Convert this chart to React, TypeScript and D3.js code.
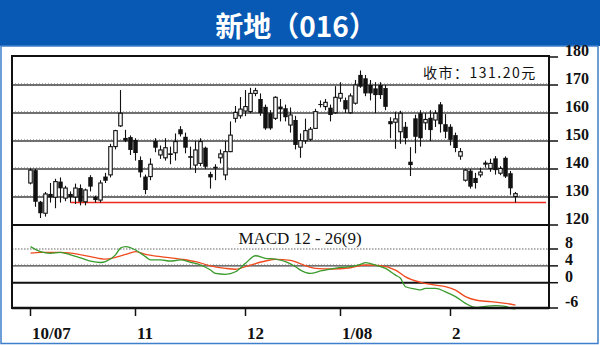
import React from "react";
import * as d3 from "d3";

// ---- Daily OHLC (Oct 2007 – Feb 2008) ----
const opens = [
  135.0, 139.6, 128.3, 124.2, 131.1, 129.9, 135.5, 129.6, 131.1, 130.0,
  133.2, 128.3, 137.1, 130.0, 128.9, 137.3, 137.9, 148.0, 155.4, 151.1,
  151.4, 150.4, 143.2, 137.3, 137.3, 150.0, 145.0, 144.0, 145.6, 145.8,
  154.2, 151.5, 144.6, 141.4, 142.0, 147.6, 138.2, 140.8, 144.0, 137.9,
  146.2, 158.1, 159.0, 160.7, 160.5, 167.0, 165.0, 162.2, 159.9, 158.1,
  162.3, 161.7, 155.7, 157.5, 147.8, 150.1, 150.6, 154.5, 163.2, 162.3,
  161.9, 160.1, 165.3, 164.6, 160.1, 163.5, 173.6, 172.4, 170.0, 168.8,
  170.0, 168.9, 157.1, 156.7, 153.3, 155.1, 142.6, 158.1, 159.9, 156.5,
  158.3, 157.5, 163.1, 156.0, 155.1, 152.1, 144.6, 136.0, 139.4, 136.8,
  137.9, 141.8, 140.2, 143.8, 138.5, 144.0, 138.5, 130.2,
];
const highs = [
  140.2, 140.0, 128.6, 131.8, 135.0, 136.5, 137.0, 134.0, 132.0, 134.8,
  134.5, 133.0, 137.8, 130.5, 136.0, 138.6, 149.0, 154.0, 168.2, 154.0,
  152.0, 151.0, 144.5, 138.0, 143.8, 151.0, 148.4, 151.0, 148.0, 152.7,
  155.3, 153.0, 148.0, 150.0, 151.0, 148.0, 139.0, 141.7, 147.0, 150.0,
  157.0, 162.5, 165.7, 168.2, 169.0, 169.0, 167.0, 163.0, 161.0, 166.0,
  165.0, 163.0, 162.0, 159.0, 152.7, 158.0, 155.0, 161.5, 164.5, 165.0,
  163.0, 169.6, 171.0, 165.5, 167.0, 171.8, 175.2, 173.6, 171.8, 171.0,
  171.0, 170.0, 158.5, 160.5, 160.8, 156.8, 147.8, 159.4, 161.0, 160.0,
  161.0, 161.0, 163.9, 159.6, 156.0, 153.0, 147.5, 140.0, 140.0, 138.6,
  140.4, 143.0, 143.7, 144.6, 141.0, 144.5, 139.3, 131.8,
];
const lows = [
  134.5, 126.5, 122.5, 123.0, 128.0, 126.0, 128.0, 128.5, 128.0, 127.5,
  127.0, 127.0, 132.0, 128.0, 128.0, 135.0, 137.0, 147.0, 155.0, 149.6,
  145.0, 143.0, 137.0, 131.0, 136.0, 146.0, 143.6, 143.0, 141.7, 143.0,
  151.6, 145.6, 140.0, 138.6, 141.0, 140.0, 133.0, 136.0, 142.0, 136.0,
  146.0, 156.6, 158.0, 158.9, 160.0, 166.0, 159.0, 154.0, 154.0, 157.5,
  157.0, 157.0, 153.0, 147.0, 144.0, 149.0, 150.0, 154.5, 162.0, 161.0,
  157.0, 159.7, 164.0, 160.0, 159.7, 163.0, 169.0, 166.0, 164.5, 160.0,
  165.0, 161.0, 151.0, 147.2, 149.0, 148.8, 137.5, 145.6, 148.0, 154.0,
  150.0, 155.0, 153.0, 151.0, 148.4, 146.0, 143.3, 135.5, 133.0, 133.0,
  137.0, 140.5, 139.0, 138.0, 137.8, 136.8, 130.8, 128.0,
];
const closes = [
  139.6, 128.3, 124.2, 131.1, 129.9, 135.5, 133.1, 133.2, 130.0, 133.2,
  128.3, 132.5, 133.7, 128.9, 135.0, 135.8, 148.0, 153.7, 159.9, 150.1,
  146.8, 145.7, 138.8, 132.5, 141.7, 147.6, 146.8, 147.6, 145.0, 149.8,
  152.4, 147.6, 144.0, 146.8, 149.8, 140.8, 137.0, 140.2, 145.4, 146.2,
  152.1, 160.2, 161.4, 162.3, 167.0, 168.0, 160.0, 154.5, 154.5, 165.6,
  161.3, 158.5, 159.3, 148.6, 150.1, 153.7, 154.2, 160.5, 162.9, 163.8,
  159.3, 165.6, 167.0, 161.3, 166.1, 170.0, 169.4, 167.0, 167.0, 166.4,
  166.4, 162.2, 156.0, 157.9, 159.9, 151.0, 141.4, 151.5, 151.0, 157.7,
  153.9, 159.9, 156.0, 153.3, 150.4, 147.5, 146.2, 139.6, 133.7, 135.0,
  138.9, 142.1, 142.0, 139.6, 140.2, 137.3, 133.1, 131.2,
];

// ---- Axis labels ----
const monthTickIdx = [0, 21, 43, 62, 84];
const monthTickLabels = ["10/07", "11", "12", "1/08", "2"];
const priceTicks = [180, 170, 160, 150, 140, 130, 120];
const priceGrid = [170, 160, 150, 140, 130];
const macdTicks = [8, 4, 0, -6];

// ---- MACD (DIF, green) and signal (red), sampled at day indices ----
const difIdx = [0, 2, 4, 6, 8, 10, 12, 14, 15, 17, 18, 19, 21, 23, 24, 26, 28, 30, 32, 34, 36, 37, 39, 41, 43, 45, 47, 49, 51, 53, 54, 56, 58, 60, 62, 64, 66, 67, 69, 71, 73, 74, 75, 77, 78, 79, 81, 83, 85, 87, 89, 91, 93, 95, 96, 97];
const difVal = [8.55, 7.36, 6.98, 7.2, 6.6, 5.9, 5.15, 4.8, 5.0, 6.6, 8.2, 8.55, 7.77, 6.2, 5.4, 5.4, 5.15, 5.4, 4.85, 4.2, 3.0, 2.2, 2.0, 2.6, 4.6, 6.4, 5.8, 5.6, 5.0, 3.8, 3.0, 2.2, 2.8, 3.25, 3.65, 3.8, 4.35, 4.75, 4.2, 3.4, 1.8, 1.05, -0.95, -1.5, -1.7, -1.35, -1.35, -2.15, -3.3, -4.9, -5.85, -5.6, -5.45, -5.6, -6.1, -6.2];
const deaIdx = [0, 2, 6, 8, 12, 15, 19, 21, 23, 26, 30, 33, 36, 39, 41, 44, 47, 49, 52, 54, 55, 57, 60, 64, 67, 70, 73, 75, 78, 81, 83, 85, 87, 89, 92, 95, 97];
const deaVal = [7.0, 7.2, 7.2, 7.0, 6.2, 5.6, 6.7, 7.36, 6.7, 6.2, 5.6, 5.0, 4.0, 3.4, 3.2, 4.2, 5.15, 5.55, 5.3, 4.5, 4.05, 3.4, 3.25, 3.55, 4.2, 4.05, 3.0, 1.4, 0.1, -0.55, -0.95, -1.75, -3.3, -4.1, -4.5, -4.9, -5.3];

const supportLevel = 128;
const supportFromIdx = 8;
const lastCloseText = "131.20";
const titleText = "新地（016）";

export default function App() {
  const W = 600, H = 345;
  const left = 12, right = 549, top = 56, sep = 225, bottom = 308;

  const x = d3.scaleLinear().domain([0, closes.length - 1]).range([30.5, 30.5 + 5 * (closes.length - 1)]);
  const y = d3.scaleLinear().domain([120, 180]).range([sep, 57]);
  const ym = d3.scaleLinear().domain([-6, 8]).range([bottom, 249]);

  const difLine = d3.line<number>()
    .x((d, i) => x(difIdx[i]))
    .y((d) => ym(d))
    .curve(d3.curveMonotoneX);
  const deaLine = d3.line<number>()
    .x((d, i) => x(deaIdx[i]))
    .y((d) => ym(d))
    .curve(d3.curveMonotoneX);

  const serif = "'Liberation Serif', 'DejaVu Serif', serif";
  const cjk = "'Noto Sans CJK SC', 'Noto Sans', sans-serif";

  return (
    <div style={{ position: "absolute", left: 0, top: 0 }}>
      <svg width={W} height={H} viewBox={`0 0 ${W} ${H}`} style={{ display: "block", background: "#fff" }}>
        {/* title bar */}
        <rect x={0} y={0} width={W} height={46} fill="#0759b4" />
        <text x={296} y={25} fill="#fff" fontFamily={cjk} fontWeight="bold" fontSize={28}
          textAnchor="middle" dominantBaseline="central">{titleText}</text>
        {/* outer blue frame */}
        <rect x={1} y={46} width={597} height={297.5} fill="none" stroke="#3f7fcc" strokeWidth={1.5} />

        {/* price gridlines */}
        {priceGrid.map((p) => (
          <g key={p}>
            <line x1={left} x2={right} y1={y(p) - 1.5} y2={y(p) - 1.5} stroke="#b0b0b0" strokeWidth={1} strokeDasharray="1,2" />
            <line x1={left} x2={right} y1={y(p)} y2={y(p)} stroke="#404040" strokeWidth={1.4} />
          </g>
        ))}

        {/* MACD gridlines */}
        <line x1={left} x2={right} y1={ym(8)} y2={ym(8)} stroke="#666" strokeWidth={1} strokeDasharray="1.5,1.5" />
        <line x1={left} x2={right} y1={ym(4) - 1.5} y2={ym(4) - 1.5} stroke="#b0b0b0" strokeWidth={1} strokeDasharray="1,2" />
        <line x1={left} x2={right} y1={ym(4)} y2={ym(4)} stroke="#404040" strokeWidth={1.4} />
        <line x1={left} x2={right} y1={ym(0)} y2={ym(0)} stroke="#111" strokeWidth={2} />

        {/* support line */}
        <line x1={x(supportFromIdx)} x2={right - 3} y1={y(supportLevel)} y2={y(supportLevel)} stroke="#ee2a1a" strokeWidth={1.5} />

        {/* candles */}
        {closes.map((c, i) => {
          const o = opens[i];
          const up = c >= o;
          const cx = x(i);
          const yt = y(Math.max(o, c));
          const yb = y(Math.min(o, c));
          const h = Math.max(1, yb - yt);
          return (
            <g key={i}>
              <line x1={cx} x2={cx} y1={y(highs[i])} y2={y(lows[i])} stroke="#111" strokeWidth={1.1} />
              {up ? (
                <rect x={cx - 1.75} y={yt} width={3.5} height={h} fill="#fff" stroke="#111" strokeWidth={1.1} />
              ) : (
                <rect x={cx - 2.25} y={yt} width={4.5} height={h} fill="#111" />
              )}
            </g>
          );
        })}

        {/* MACD lines */}
        <path d={deaLine(deaVal) || ""} fill="none" stroke="#f04a1e" strokeWidth={1.3} />
        <path d={difLine(difVal) || ""} fill="none" stroke="#3a9a2c" strokeWidth={1.3} />

        {/* frame */}
        <line x1={left} x2={right} y1={top} y2={top} stroke="#111" strokeWidth={2} />
        <line x1={left} x2={right} y1={sep} y2={sep} stroke="#111" strokeWidth={2} />
        <line x1={left} x2={right} y1={bottom} y2={bottom} stroke="#111" strokeWidth={2.5} />
        <line x1={left} x2={left} y1={top - 1} y2={bottom + 1} stroke="#111" strokeWidth={2} />
        <line x1={right} x2={right} y1={top - 1} y2={bottom + 1} stroke="#111" strokeWidth={2} />

        {/* right axis ticks and labels */}
        {priceTicks.map((p) => (
          <g key={p}>
            <line x1={right} x2={right + 9} y1={y(p)} y2={y(p)} stroke="#111" strokeWidth={1.5} />
            <text x={565} y={y(p) - 1} fontFamily={serif} fontSize={16} fontWeight="bold" fill="#111">{p}</text>
          </g>
        ))}
        {macdTicks.map((v) => (
          <g key={v}>
            <line x1={right} x2={right + 9} y1={ym(v)} y2={ym(v)} stroke="#111" strokeWidth={1.5} />
            <text x={565} y={ym(v) - 1} fontFamily={serif} fontSize={16} fontWeight="bold" fill="#111">{v}</text>
          </g>
        ))}

        {/* x axis ticks and labels */}
        {monthTickIdx.map((d, k) => (
          <g key={d}>
            <line x1={x(d)} x2={x(d)} y1={bottom} y2={bottom + 8} stroke="#111" strokeWidth={1.5} />
            <text x={x(d) + 1.5} y={339} fontFamily={serif} fontSize={17} fontWeight="bold" fill="#111">{monthTickLabels[k]}</text>
          </g>
        ))}

        {/* annotations */}
        <text x={300} y={238} fontFamily={serif} fontSize={17} fill="#111" textAnchor="middle" dominantBaseline="central">MACD 12 - 26(9)</text>
        <text x={423} y={72} fontFamily={cjk} fontSize={14} fill="#111" letterSpacing={1.5} dominantBaseline="central">
          收市：{lastCloseText}元
        </text>
      </svg>
    </div>
  );
}
